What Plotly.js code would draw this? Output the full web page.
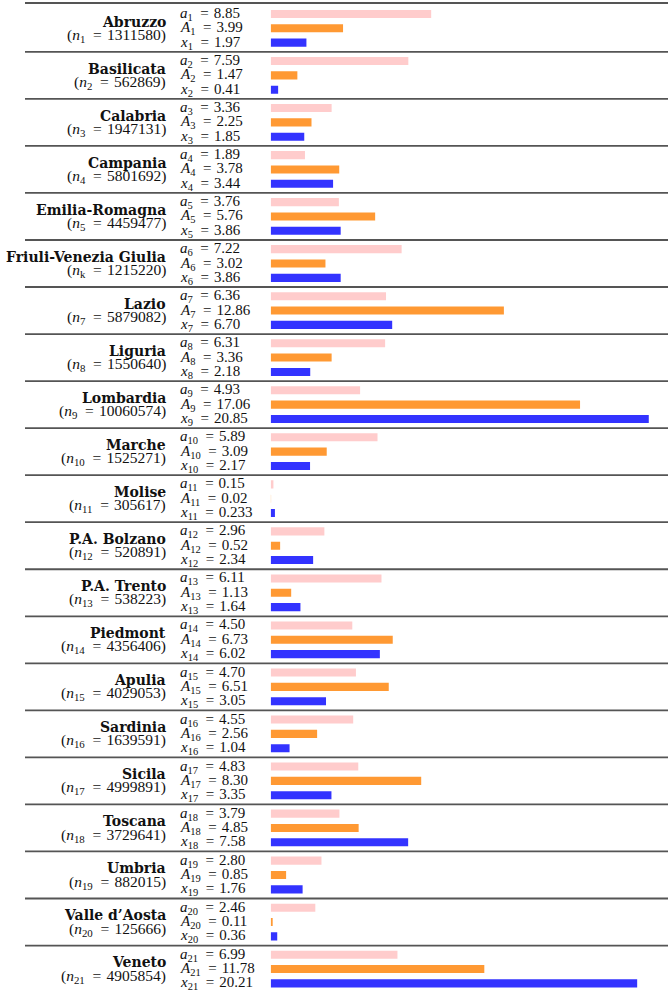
<!DOCTYPE html>
<html>
<head>
<meta charset="utf-8">
<script src="https://cdn.plot.ly/plotly-3.0.1.min.js"></script>
<style>html,body{margin:0;padding:0;background:#fff;}#chart{width:668px;height:990px;}</style>
</head>
<body>
<div id="chart"></div>
<script>
const regions = ["Abruzzo","Basilicata","Calabria","Campania","Emilia-Romagna","Friuli-Venezia Giulia","Lazio","Liguria","Lombardia","Marche","Molise","P.A. Bolzano","P.A. Trento","Piedmont","Apulia","Sardinia","Sicila","Toscana","Umbria","Valle d\u2019Aosta","Veneto"];
const nSubs = ["1","2","3","4","5","k","7","8","9","10","11","12","13","14","15","16","17","18","19","20","21"];
const nValues = [1311580,562869,1947131,5801692,4459477,1215220,5879082,1550640,10060574,1525271,305617,520891,538223,4356406,4029053,1639591,4999891,3729641,882015,125666,4905854];
const aValues = [8.85,7.59,3.36,1.89,3.76,7.22,6.36,6.31,4.93,5.89,0.15,2.96,6.11,4.50,4.70,4.55,4.83,3.79,2.80,2.46,6.99];
const AValues = [3.99,1.47,2.25,3.78,5.76,3.02,12.86,3.36,17.06,3.09,0.02,0.52,1.13,6.73,6.51,2.56,8.30,4.85,0.85,0.11,11.78];
const xValues = [1.97,0.41,1.85,3.44,3.86,3.86,6.70,2.18,20.85,2.17,0.233,2.34,1.64,6.02,3.05,1.04,3.35,7.58,1.76,0.36,20.21];

const W = 668;
const fmt = v => { const s = v.toFixed(3); return s.endsWith('0') ? v.toFixed(2) : s; };
const idx = regions.map((_, i) => i);
const OFF = 0.305, BW = 0.172;
const EQ = '\u2002=\u2004';

const series = [
  {vals: aValues, sym: 'a', color: '#ffcccc', off: -OFF},
  {vals: AValues, sym: 'A', color: '#ff9933', off: 0},
  {vals: xValues, sym: 'x', color: '#3333ff', off: OFF}
];

const traces = series.map(s => ({
  type: 'bar', orientation: 'h',
  x: s.vals, y: idx.map(i => i + s.off),
  width: BW,
  marker: {color: s.color, line: {width: 0}},
  hoverinfo: 'skip'
}));

const annotations = [];
const serif = 'Liberation Serif, Times New Roman, serif';
idx.forEach(i => {
  annotations.push({xref: 'paper', yref: 'y', x: 168/W, y: i - 0.14, xanchor: 'right', yanchor: 'middle',
    text: '<b>' + regions[i] + '</b>', showarrow: false,
    font: {family: 'DejaVu Serif, serif', size: 14, color: '#111'}});
  annotations.push({xref: 'paper', yref: 'y', x: 168/W, y: i + 0.15, xanchor: 'right', yanchor: 'middle',
    text: '(<i>n</i><sub>' + nSubs[i] + '</sub>' + EQ + nValues[i] + ')', showarrow: false,
    font: {family: serif, size: 15.5, color: '#111'}});
  series.forEach(s => {
    annotations.push({xref: 'paper', yref: 'y', x: 178/W, y: i + s.off, xanchor: 'left', yanchor: 'middle',
      text: '<i>' + s.sym + '</i><sub>' + (i + 1) + '</sub>' + EQ + fmt(s.vals[i]), showarrow: false,
      font: {family: serif, size: 15, color: '#111'}});
  });
});

const shapes = [{type: 'line', xref: 'paper', yref: 'y', x0: 25/W, x1: 1, y0: -0.538, y1: -0.538,
  line: {color: '#555', width: 2}}];
for (let i = 1; i < regions.length; i++) {
  shapes.push({type: 'line', xref: 'paper', yref: 'y', x0: 25/W, x1: 1, y0: i - 0.5, y1: i - 0.5,
    line: {color: '#555', width: 1.8}});
}

const layout = {
  width: 668, height: 990,
  margin: {l: 0, r: 0, t: 0, b: 0, pad: 0},
  paper_bgcolor: '#fff', plot_bgcolor: '#fff',
  showlegend: false, barmode: 'overlay',
  xaxis: {domain: [270.7/W, 1], range: [0, 21.91], visible: false, fixedrange: true},
  yaxis: {range: [20.445, -0.602], visible: false, fixedrange: true},
  annotations: annotations, shapes: shapes
};
Plotly.newPlot('chart', traces, layout, {displayModeBar: false, staticPlot: true});
</script>
</body>
</html>
